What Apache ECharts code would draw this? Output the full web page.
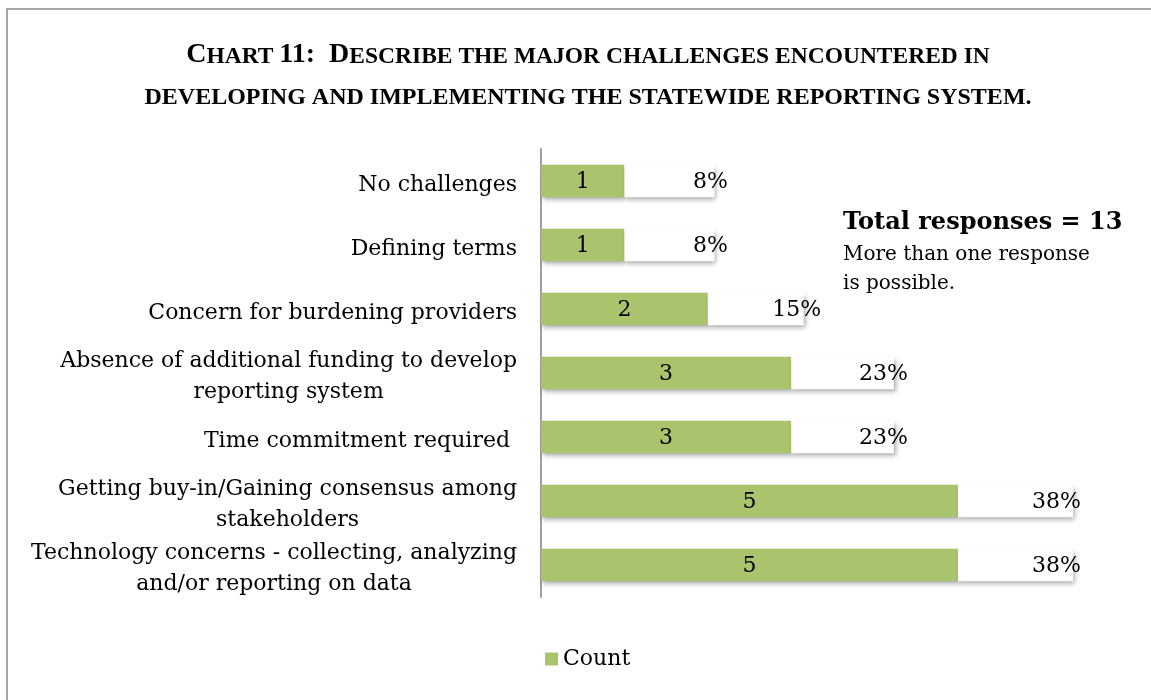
<!DOCTYPE html>
<html>
<head>
<meta charset="utf-8">
<script src="https://cdn.jsdelivr.net/npm/echarts@6/dist/echarts.min.js"></script>
<style>
  html, body { margin: 0; padding: 0; background: #fff; }
  #chart { width: 1151px; height: 700px; }
</style>
</head>
<body>
<div id="chart"></div>
<script>
// Challenges reported, top to bottom
const categories = [
  'No challenges',
  'Defining terms',
  'Concern for burdening providers',
  'Absence of additional funding to develop\nreporting system',
  'Time commitment required ',
  'Getting buy-in/Gaining consensus among\nstakeholders',
  'Technology concerns - collecting, analyzing\nand/or reporting on data'
];
// Number of states naming each challenge
const counts = [1, 1, 2, 3, 3, 5, 5];
// Share of all responses, in percent
const percents = [8, 8, 15, 23, 23, 38, 38];
const totalResponses = 13;

const SERIF = '"DejaVu Serif", serif';
const TITLE_SERIF = '"Liberation Serif", "Times New Roman", serif';
const GREEN = '#a9c46d';

// The percentage box sits on a one-unit base so short shares stay readable
const shareBars = percents.map(p => 1 + p / 100);

const chart = echarts.init(document.getElementById('chart'), null, { renderer: 'canvas' });

chart.setOption({
  animation: false,
  backgroundColor: '#fff',
  grid: { left: 541, top: 149, width: 583.8, height: 448, containLabel: false },
  xAxis: { type: 'value', min: 0, max: 7, show: false },
  yAxis: {
    type: 'category',
    inverse: true,
    data: categories,
    axisLine: { show: true, lineStyle: { color: '#a0a0a0', width: 2 } },
    axisTick: { show: false },
    splitLine: { show: false },
    axisLabel: {
      margin: 24,
      align: 'right',
      padding: [8, 0, 0, 0],
      formatter: v => v.split('\n').map(s => '{c|' + s + '}').join('\n'),
      rich: {
        c: { align: 'center', fontFamily: SERIF, fontSize: 22, color: '#000', lineHeight: 31 }
      }
    }
  },
  legend: {
    data: ['Count'],
    left: 545,
    top: 648,
    padding: 0,
    itemWidth: 13,
    itemHeight: 13,
    itemGap: 5,
    icon: 'rect',
    itemStyle: { shadowBlur: 0, shadowOffsetX: 0, shadowOffsetY: 0, shadowColor: 'transparent' },
    textStyle: { fontFamily: SERIF, fontSize: 22, color: '#000', padding: [2, 0, 0, 0] }
  },
  series: [
    {
      name: 'Count',
      type: 'bar',
      stack: 'total',
      barWidth: '51%',
      data: counts,
      itemStyle: {
        color: GREEN,
        shadowColor: 'rgba(0,0,0,0.35)',
        shadowBlur: 5,
        shadowOffsetX: 2,
        shadowOffsetY: 3
      },
      label: {
        show: true,
        position: 'inside',
        offset: [0, 1],
        fontFamily: SERIF,
        fontSize: 22,
        color: '#000'
      }
    },
    {
      name: 'Share',
      type: 'bar',
      stack: 'total',
      barWidth: '51%',
      data: shareBars,
      itemStyle: {
        color: '#ffffff',
        shadowColor: 'rgba(0,0,0,0.35)',
        shadowBlur: 5,
        shadowOffsetX: 2,
        shadowOffsetY: 3
      },
      label: {
        show: true,
        position: 'inside',
        offset: [41, 1],
        fontFamily: SERIF,
        fontSize: 22,
        color: '#000',
        formatter: p => percents[p.dataIndex] + '%'
      }
    }
  ],
  graphic: [
    // frame around the chart area
    {
      type: 'polyline',
      silent: true,
      shape: { points: [[7, 760], [7, 9], [1200, 9]] },
      style: { stroke: '#a6a6a6', lineWidth: 2, fill: null }
    },
    // title, set in small capitals
    {
      type: 'text',
      x: 588,
      y: 41,
      style: {
        text: '{b|C}{s|HART }{b|11:  D}{s|ESCRIBE THE MAJOR CHALLENGES ENCOUNTERED IN}',
        align: 'center',
        verticalAlign: 'top',
        rich: {
          b: { fontFamily: TITLE_SERIF, fontWeight: 'bold', fontSize: 28, fill: '#000', verticalAlign: 'bottom' },
          s: { fontFamily: TITLE_SERIF, fontWeight: 'bold', fontSize: 23.5, fill: '#000', verticalAlign: 'bottom' }
        }
      }
    },
    {
      type: 'text',
      x: 588,
      y: 86,
      style: {
        text: 'DEVELOPING AND IMPLEMENTING THE STATEWIDE REPORTING SYSTEM.',
        align: 'center',
        verticalAlign: 'top',
        fontFamily: TITLE_SERIF,
        fontWeight: 'bold',
        fontSize: 24,
        fill: '#000'
      }
    },
    // note on the number of responses
    {
      type: 'text',
      left: 843,
      top: 211,
      style: {
        text: 'Total responses = ' + totalResponses,
        fontFamily: SERIF,
        fontWeight: 'bold',
        fontSize: 24,
        fill: '#000'
      }
    },
    {
      type: 'text',
      left: 843,
      top: 240,
      style: {
        text: 'More than one response\nis possible.',
        fontFamily: SERIF,
        fontSize: 20,
        lineHeight: 29,
        fill: '#000'
      }
    }
  ]
});
</script>
</body>
</html>
